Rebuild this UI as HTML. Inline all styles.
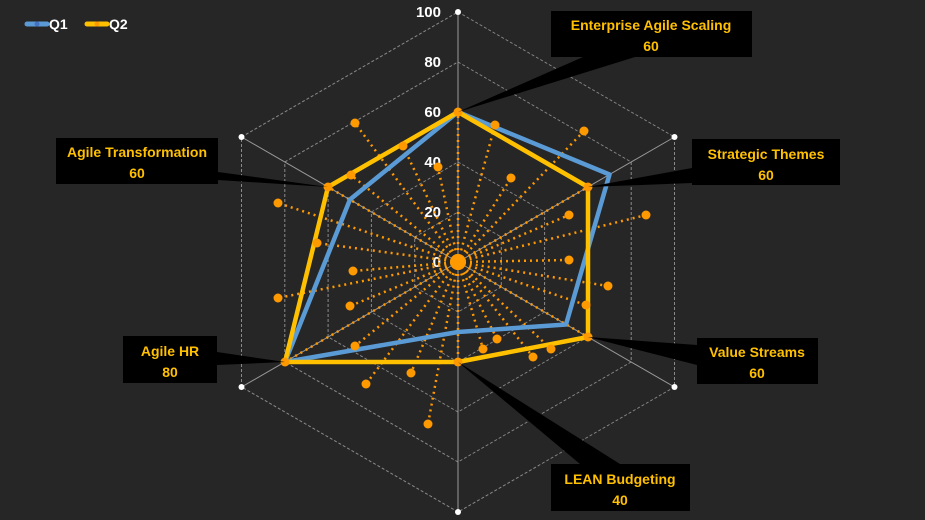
<!DOCTYPE html>
<html><head><meta charset="utf-8"><style>
html,body{margin:0;padding:0;background:#262626;}
svg{display:block;font-family:"Liberation Sans",sans-serif;}
.lb{font-weight:bold;font-size:14px;fill:#ffc000;text-anchor:middle;}
.ax{font-weight:bold;font-size:15px;fill:#fff;text-anchor:end;}
</style></head><body>
<svg width="925" height="520" viewBox="0 0 925 520">
<rect width="925" height="520" fill="#262626"/>
<g fill="none" stroke="#8a8a8a" stroke-width="1">
<polygon points="458,212 501.3,237 501.3,287 458,312 414.7,287 414.7,237" stroke-dasharray="3,2"/>
<polygon points="458,162 544.6,212 544.6,312 458,362 371.4,312 371.4,212" stroke-dasharray="3,2"/>
<polygon points="458,112 587.9,187 587.9,337 458,412 328.1,337 328.1,187" stroke-dasharray="3,2"/>
<polygon points="458,62 631.2,162 631.2,362 458,462 284.8,362 284.8,162" stroke-dasharray="3,2"/>
<polygon points="458,12 674.5,137 674.5,387 458,512 241.5,387 241.5,137" stroke-dasharray="3,2"/>
<g stroke="#999">
<line x1="458" y1="262" x2="458" y2="12"/><line x1="458" y1="262" x2="674.5" y2="137"/>
<line x1="458" y1="262" x2="674.5" y2="387"/><line x1="458" y1="262" x2="458" y2="512"/>
<line x1="458" y1="262" x2="241.5" y2="387"/><line x1="458" y1="262" x2="241.5" y2="137"/>
</g></g>
<g fill="#fff"><circle cx="458" cy="12" r="3"/><circle cx="674.5" cy="137" r="3"/><circle cx="674.5" cy="387" r="3"/><circle cx="458" cy="512" r="3"/><circle cx="241.5" cy="387" r="3"/><circle cx="241.5" cy="137" r="3"/></g>
<g class="ax"><text x="441" y="17">100</text><text x="441" y="67">80</text><text x="441" y="117">60</text><text x="441" y="167">40</text><text x="441" y="217">20</text><text x="441" y="267">0</text></g>
<g stroke="#ff9900" stroke-width="2.5" stroke-dasharray="2,4" fill="none">
<path d="M458 262L355 123M458 262L403 146M458 262L351 175M458 262L438 167M458 262L495 125M458 262L584 131M458 262L511 178M458 262L569 215M458 262L646 215M458 262L569 260M458 262L608 286M458 262L586 305M458 262L551 349M458 262L533 357M458 262L497 339M458 262L483 349M458 262L428 424M458 262L411 373M458 262L366 384M458 262L355 346M458 262L350 306M458 262L278 298M458 262L353 271M458 262L317 243M458 262L278 203M458 262L458 112M458 262L588 187M458 262L588 337M458 262L458 362M458 262L285 362M458 262L328 187"/>
</g>
<polygon points="458,112 609.5,174.5 566,324.5 458,332 285,362 350,199.5" fill="none" stroke="#5b9bd5" stroke-width="4.5" stroke-linejoin="round"/>
<polygon points="458,112 588,187 588,337 458,362 285,362 328,187" fill="none" stroke="#ffc000" stroke-width="4.5" stroke-linejoin="round"/>
<g fill="#ff9900">
<circle cx="458" cy="262" r="8"/>
<circle cx="355" cy="123" r="4.5"/><circle cx="403" cy="146" r="4.5"/><circle cx="351" cy="175" r="4.5"/><circle cx="438" cy="167" r="4.5"/><circle cx="495" cy="125" r="4.5"/><circle cx="584" cy="131" r="4.5"/><circle cx="511" cy="178" r="4.5"/><circle cx="569" cy="215" r="4.5"/><circle cx="646" cy="215" r="4.5"/><circle cx="569" cy="260" r="4.5"/><circle cx="608" cy="286" r="4.5"/><circle cx="586" cy="305" r="4.5"/><circle cx="551" cy="349" r="4.5"/><circle cx="533" cy="357" r="4.5"/><circle cx="497" cy="339" r="4.5"/><circle cx="483" cy="349" r="4.5"/><circle cx="428" cy="424" r="4.5"/><circle cx="411" cy="373" r="4.5"/><circle cx="366" cy="384" r="4.5"/><circle cx="355" cy="346" r="4.5"/><circle cx="350" cy="306" r="4.5"/><circle cx="278" cy="298" r="4.5"/><circle cx="353" cy="271" r="4.5"/><circle cx="317" cy="243" r="4.5"/><circle cx="278" cy="203" r="4.5"/>
<circle cx="458" cy="112" r="4.5"/><circle cx="588" cy="187" r="4.5"/><circle cx="588" cy="337" r="4.5"/><circle cx="458" cy="362" r="4.5"/><circle cx="285" cy="362" r="4.5"/><circle cx="328" cy="187" r="4.5"/>
</g>
<g fill="#000">
<polygon points="583,57 635,57 458,112"/>
<rect x="551" y="11" width="201" height="46"/>
<polygon points="692,168 692,183 588,187"/>
<rect x="692" y="139" width="148" height="46"/>
<polygon points="697,345 697,365 588,337"/>
<rect x="697" y="338" width="121" height="46"/>
<polygon points="580,464 620,464 458,362"/>
<rect x="551" y="464" width="139" height="47"/>
<polygon points="217,352 217,365 285,362"/>
<rect x="123" y="336" width="94" height="47"/>
<polygon points="218,172 218,180 328,187"/>
<rect x="56" y="138" width="162" height="46"/>
</g>
<g class="lb">
<text x="651" y="30">Enterprise Agile Scaling</text><text x="651" y="51">60</text>
<text x="766" y="159">Strategic Themes</text><text x="766" y="180">60</text>
<text x="757" y="357">Value Streams</text><text x="757" y="378">60</text>
<text x="620" y="484">LEAN Budgeting</text><text x="620" y="505">40</text>
<text x="170" y="356">Agile HR</text><text x="170" y="377">80</text>
<text x="137" y="157">Agile Transformation</text><text x="137" y="178">60</text>
</g>
<line x1="27" y1="24" x2="47" y2="24" stroke="#5b9bd5" stroke-width="5" stroke-linecap="round"/>
<circle cx="37" cy="24" r="2.5" fill="#4472c4"/>
<text x="49" y="29" fill="#fff" font-size="14" font-weight="bold">Q1</text>
<line x1="87" y1="24" x2="107" y2="24" stroke="#ffc000" stroke-width="5" stroke-linecap="round"/>
<circle cx="97" cy="24" r="2.5" fill="#ff9900"/>
<text x="109" y="29" fill="#fff" font-size="14" font-weight="bold">Q2</text>
</svg>
</body></html>
